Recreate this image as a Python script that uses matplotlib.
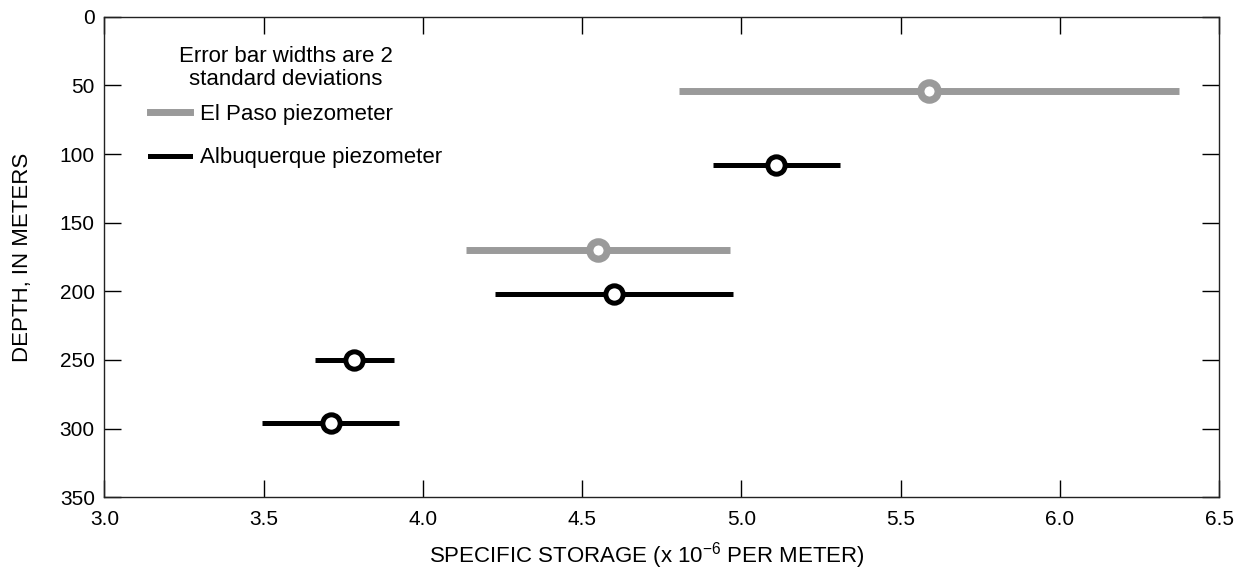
import numpy as np
import matplotlib
matplotlib.use("Agg")
import matplotlib.pyplot as plt
from matplotlib.lines import Line2D

plt.rcParams['font.family'] = ['Liberation Sans', 'DejaVu Sans']
plt.rcParams['mathtext.default'] = 'regular'

# Specific storage (x 1e-6 per meter), depth in meters, 1 std dev half-widths
elpaso_ss = [5.59, 4.55]
elpaso_depth = [54, 170]
elpaso_sd = [0.785, 0.415]

albq_ss = [5.11, 4.60, 3.785, 3.71]
albq_depth = [108, 202, 250, 296]
albq_sd = [0.20, 0.375, 0.125, 0.215]

x_ticks = [3.0, 3.5, 4.0, 4.5, 5.0, 5.5, 6.0, 6.5]
y_ticks = [0, 50, 100, 150, 200, 250, 300, 350]

gray = '#9a9a9a'

fig = plt.figure(figsize=(12.41, 5.71), dpi=100)
ax = fig.add_axes([0.0842, 0.1292, 0.8981, 0.8414])

ax.errorbar(elpaso_ss, elpaso_depth, xerr=elpaso_sd, fmt='o', color=gray,
            ecolor=gray, elinewidth=5, capsize=0, markersize=12.5,
            markeredgewidth=5.2, markerfacecolor='white', markeredgecolor=gray)
ax.errorbar(albq_ss, albq_depth, xerr=albq_sd, fmt='o', color='black',
            ecolor='black', elinewidth=3.6, capsize=0, markersize=12.5,
            markeredgewidth=3.6, markerfacecolor='white', markeredgecolor='black')

ax.set_xlim(3.0, 6.5)
ax.set_ylim(350, 0)
ax.set_xticks(x_ticks)
ax.set_xticklabels([f'{t:.1f}' for t in x_ticks])
ax.set_yticks(y_ticks)

ax.tick_params(direction='in', length=12, width=1, top=True, right=True,
               labelsize=15, colors='black')
ax.tick_params(axis='x', pad=9)
ax.tick_params(axis='y', pad=7)
for sp in ax.spines.values():
    sp.set_linewidth(1.0)
    sp.set_color('#222222')

ax.set_xlabel('SPECIFIC STORAGE (x 10$^{\u22126}$ PER METER)', fontsize=16, labelpad=8)
ax.xaxis.label.set_x(0.4865)
ax.set_ylabel('DEPTH, IN METERS', fontsize=16, labelpad=19)

# key: note above, then the two line samples
ax.text(0.163, 0.894, 'Error bar widths are 2\nstandard deviations',
        transform=ax.transAxes, ha='center', va='center', fontsize=16,
        linespacing=1.12, multialignment='center')
handles = [Line2D([], [], color=gray, lw=5),
           Line2D([], [], color='black', lw=3.6)]
ax.legend(handles, ['El Paso piezometer', 'Albuquerque piezometer'],
          loc='upper left', bbox_to_anchor=(0.0408, 0.8185), frameon=False,
          fontsize=16, handlelength=1.8, handletextpad=0.45,
          labelspacing=1.01, borderpad=0, borderaxespad=0)

fig.savefig('out.png', dpi=100)
